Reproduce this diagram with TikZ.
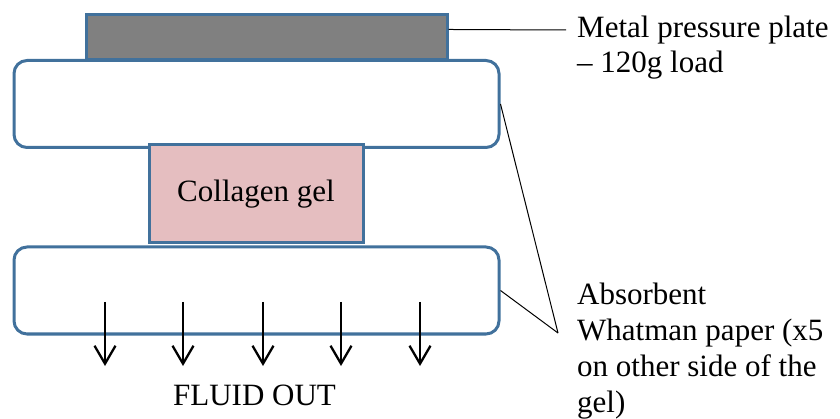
\documentclass[tikz,border=0pt]{standalone}
\usepackage{fontspec}
\setmainfont{Liberation Serif}
\usetikzlibrary{arrows.meta,calc}
\definecolor{boxblue}{RGB}{65,113,156}
\definecolor{plategray}{RGB}{128,128,128}
\definecolor{gelpink}{RGB}{229,190,192}
\tikzset{
  layer/.style={draw=boxblue, line width=3pt, inner sep=0pt},
  paperbox/.style={layer, fill=white, rounded corners=13pt, minimum width=485pt, minimum height=87pt},
  flow/.style={line width=2.3pt, -{Straight Barb[length=18pt,width=21pt,line width=2.3pt]}},
  callout/.style={line width=1pt, black},
  lbl/.style={inner sep=0pt, font=\fontsize{31}{36}\selectfont}
}
\begin{document}
\begin{tikzpicture}[x=1pt,y=-1pt]
\useasboundingbox (0,0) rectangle (840,419);
% layers
\node[paperbox] (top) at (256.5,104) {};
\node[layer, fill=plategray, minimum width=361pt, minimum height=45pt] (plate) at (266.5,37.5) {};
\node[paperbox] (bottom) at (256.5,290.5) {};
\node[layer, fill=gelpink, minimum width=214pt, minimum height=98pt] (gel) at (256,194) {};
\node[lbl, anchor=base] (geltext) at (256,202) {Collagen gel};
% fluid arrows
\foreach \i/\x in {1/105,2/183,3/263,4/341,5/420}{
  \coordinate (s\i) at (\x,302);
  \coordinate (e\i) at (\x,366);
  \draw[flow] (s\i) -- (e\i);
}
\node[lbl, anchor=base] (fluid) at (254.5,405) {FLUID OUT};
% labels
\node[lbl, anchor=base west] (metal) at (577,38) {\parbox[t]{262pt}{\fontsize{31}{35}\selectfont Metal pressure plate\\– 120g load}};
\node[lbl, anchor=base west] (whatman) at (577,305) {\parbox[t]{262pt}{\fontsize{31}{36}\selectfont Absorbent\\Whatman paper (x5\\on other side of the\\gel)}};
% callouts
\coordinate (mend) at (566,30);
\coordinate (wend) at (558,333);
\draw[callout] ($(plate.north east)!0.333!(plate.south east)$) -- (mend);
\draw[callout] (top.east) -- (wend);
\draw[callout] (bottom.east) -- (wend);
\end{tikzpicture}
\end{document}
